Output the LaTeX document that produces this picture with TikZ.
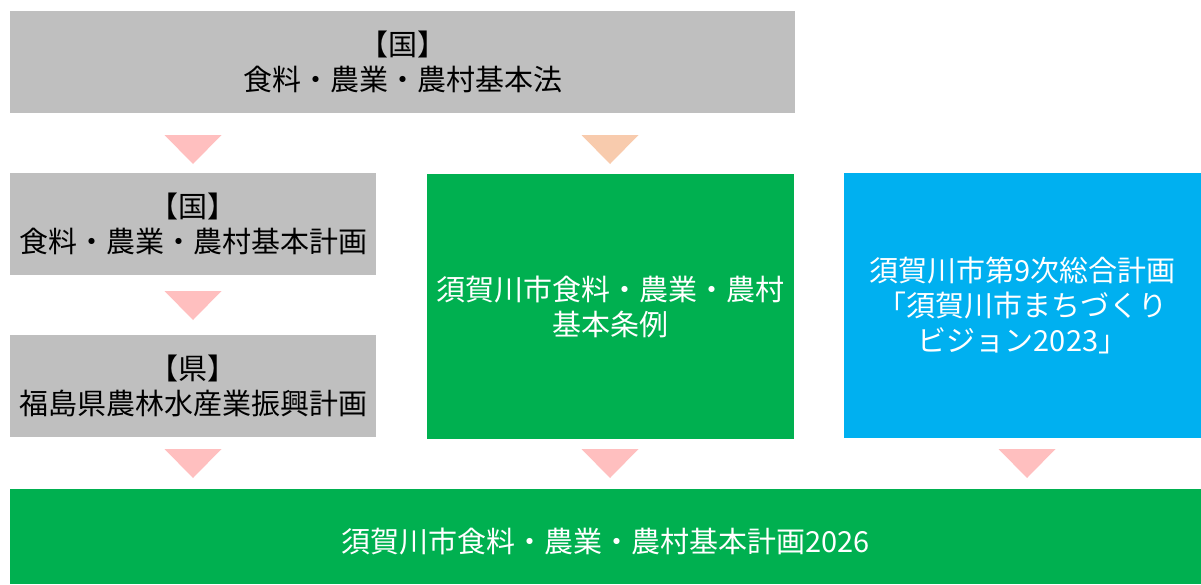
\documentclass[tikz,border=0pt]{standalone}
\usepackage{fontspec}
\setmainfont{Noto Sans CJK JP}
\definecolor{boxgray}{HTML}{BFBFBF}
\definecolor{plangreen}{HTML}{00B050}
\definecolor{planblue}{HTML}{00B0F0}
\definecolor{tripink}{HTML}{FFBFBF}
\definecolor{tripeach}{HTML}{F8CBAD}

\tikzset{
  planbox/.style={inner sep=0pt, align=center, font=\fontsize{29}{35}\selectfont,
    execute at begin node={\rule{0pt}{34pt}}},
  graybox/.style={planbox, fill=boxgray, text=black},
  greenbox/.style={planbox, fill=plangreen, text=white},
  bluebox/.style={planbox, fill=planblue, text=white},
}

% down triangle: colour, centre x, top y
\newcommand{\downtri}[3]{\fill[#1] ({#2-28.5},#3) -- ({#2+28.5},#3) -- (#2,{#3+29}) -- cycle;}

\begin{document}
\begin{tikzpicture}[x=1pt, y=-1pt]

\useasboundingbox (0,0) rectangle (1201,584);

% boxes
\node[graybox, minimum width=785, minimum height=102] (hou) at (402.5,62) {【国】\\食料・農業・農村基本法};
\node[graybox, minimum width=366, minimum height=102] (kunikeikaku) at (193,224) {【国】\\食料・農業・農村基本計画};
\node[graybox, minimum width=366, minimum height=102] (kenkeikaku) at (193,385.5) {【県】\\福島県農林水産業振興計画};
\node[greenbox, minimum width=367, minimum height=265] (jourei) at (610.5,306.5) {須賀川市食料・農業・農村\\基本条例};
\node[bluebox, minimum width=357, minimum height=265] (vision) at (1022.5,305.5) {須賀川市第9次総合計画\\「須賀川市まちづくり\\ビジョン2023」};
\node[greenbox, minimum width=1191, minimum height=95] (keikaku) at (605.5,536.5) {須賀川市食料・農業・農村基本計画2026};

% triangles
\downtri{tripink}{193}{135}
\downtri{tripeach}{610}{135}
\downtri{tripink}{193}{291}
\downtri{tripink}{193}{449}
\downtri{tripink}{610}{449}
\downtri{tripink}{1027}{449}

\end{tikzpicture}
\end{document}
